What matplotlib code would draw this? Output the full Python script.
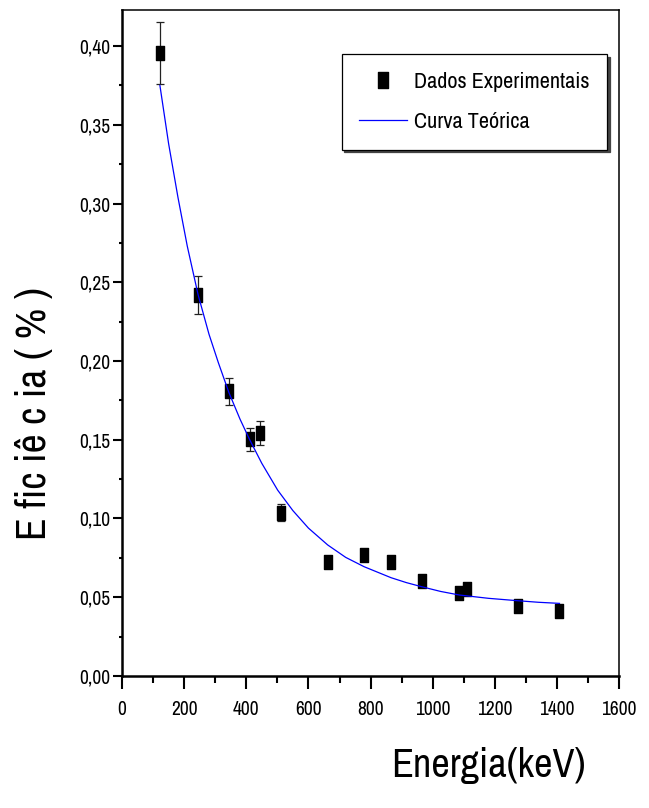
import matplotlib
matplotlib.use("Agg")
import matplotlib.pyplot as plt
from matplotlib import font_manager
from matplotlib.path import Path
from matplotlib.ticker import MultipleLocator, FuncFormatter

# ---- data ----
energy_keV = [122, 245, 344, 411, 444, 511, 662, 779, 866, 964, 1086, 1111, 1273, 1407]
efficiency = [0.3957, 0.2419, 0.1808, 0.1503, 0.1545, 0.1037, 0.0726, 0.0768,
              0.0722, 0.0605, 0.0525, 0.0552, 0.0446, 0.0415]
eff_error = [0.0198, 0.0121, 0.0087, 0.0072, 0.0076, 0.0053, 0.0038, 0.0038,
             0.0036, 0.0032, 0.0028, 0.0028, 0.0024, 0.0022]

curve_x = [122, 150, 180, 210, 245, 280, 310, 344, 380, 411, 450, 501, 550, 600,
           662, 720, 779, 866, 915, 964, 1025, 1086, 1180, 1273, 1340, 1408]
curve_y = [0.375, 0.338, 0.304, 0.273, 0.242, 0.217, 0.199, 0.180, 0.163, 0.150,
           0.135, 0.118, 0.105, 0.0939, 0.0832, 0.0753, 0.0694, 0.0624, 0.0593,
           0.0567, 0.0537, 0.0514, 0.0493, 0.0478, 0.0468, 0.0461]

legend_labels = ["Dados Experimentais", "Curva Teórica"]
x_label = "Energia(keV)"
y_label = "E fic iê c ia ( % )"

# ---- font ----
names = {f.name for f in font_manager.fontManager.ttflist}
fam = "Liberation Sans"
for cand in ["Liberation Sans Narrow", "Arial Narrow", "Archivo Narrow", "PT Sans Narrow",
             "Roboto Condensed", "Pragati Narrow"]:
    if cand in names:
        fam = cand
        break
plt.rcParams["font.family"] = [fam, "DejaVu Sans"]

fig = plt.figure(figsize=(6.49, 8.08), dpi=100)
ax = fig.add_axes([0.188, 0.1634, 0.766, 0.8242])

rect = Path([(-0.29, -0.5), (0.29, -0.5), (0.29, 0.5), (-0.29, 0.5), (-0.29, -0.5)],
            [Path.MOVETO, Path.LINETO, Path.LINETO, Path.LINETO, Path.CLOSEPOLY])

ax.errorbar(energy_keV, efficiency, yerr=eff_error, fmt="none", ecolor="#222222",
            elinewidth=0.9, capsize=3.0, capthick=0.9, zorder=2)
pts, = ax.plot(energy_keV, efficiency, linestyle="none", marker=rect, markersize=9.4,
               color="black", zorder=3, label=legend_labels[0])
ln, = ax.plot(curve_x, curve_y, color="#0000ff", lw=0.9, zorder=4, label=legend_labels[1])

ax.set_xlim(0, 1600)
ax.set_ylim(0, 0.4229)
ax.xaxis.set_major_locator(MultipleLocator(200))
ax.xaxis.set_minor_locator(MultipleLocator(100))
ax.yaxis.set_major_locator(MultipleLocator(0.05))
ax.yaxis.set_minor_locator(MultipleLocator(0.025))
ax.yaxis.set_major_formatter(FuncFormatter(lambda v, p: f"{v:.2f}".replace(".", ",")))

ax.tick_params(axis="x", which="major", direction="out", length=9.5, width=1.5,
               labelsize=14, pad=8)
ax.tick_params(axis="x", which="minor", direction="out", length=5, width=1.5)
ax.tick_params(axis="y", which="major", direction="out", length=6.5, width=1.5,
               labelsize=14, pad=2)
ax.tick_params(axis="y", which="minor", direction="out", length=2.5, width=1.5)

ax.spines["left"].set_linewidth(1.8)
ax.spines["bottom"].set_linewidth(1.8)
ax.spines["top"].set_linewidth(1.1)
ax.spines["right"].set_linewidth(1.1)

fig.text(488 / 649, 1 - 765 / 808, x_label, fontsize=29, ha="center", va="center")
fig.text(34 / 649, 1 - 413 / 808, y_label, fontsize=30, ha="center", va="center",
         rotation=90)

leg = ax.legend(handles=[pts, ln], loc="upper right", bbox_to_anchor=(0.976, 0.934),
                borderaxespad=0, fontsize=16, frameon=True, fancybox=False,
                edgecolor="black", framealpha=1, markerscale=1.3,
                handlelength=2.15, handletextpad=0.3, labelspacing=0.9,
                borderpad=0.8, shadow={"color": "#444444", "alpha": 1.0})
leg.get_frame().set_linewidth(0.9)

fig.savefig("out.png", dpi=100)
